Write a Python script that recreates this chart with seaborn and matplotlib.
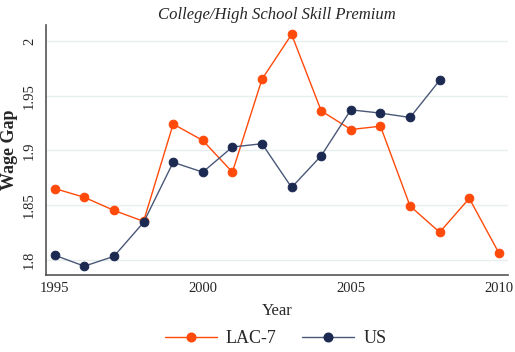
import pandas as pd
import seaborn as sns
import matplotlib.pyplot as plt
from matplotlib.lines import Line2D

# Values
years_lac = list(range(1995, 2011))
lac7 = [1.865, 1.857, 1.845, 1.835, 1.924, 1.909, 1.880, 1.965,
        2.006, 1.936, 1.919, 1.922, 1.849, 1.825, 1.856, 1.806]
years_us = list(range(1995, 2009))
us = [1.804, 1.794, 1.803, 1.834, 1.889, 1.880, 1.903, 1.906,
      1.866, 1.895, 1.937, 1.934, 1.930, 1.964]

df = pd.concat([
    pd.DataFrame({'year': years_lac, 'gap': lac7, 'series': 'LAC-7'}),
    pd.DataFrame({'year': years_us, 'gap': us, 'series': 'US'}),
])

sns.set_style('white')
plt.rcParams['font.family'] = ['Liberation Serif', 'DejaVu Serif']

orange = '#ff4a0a'
navy = '#1c2a52'
navy_line = '#4a5878'

fig = plt.figure(figsize=(5.15, 3.52), dpi=100)
ax = fig.add_axes([0.089, 0.219, 0.897, 0.71])

for name, lc, mc in [('LAC-7', orange, orange), ('US', navy_line, navy)]:
    d = df[df['series'] == name]
    sns.lineplot(data=d, x='year', y='gap', ax=ax, color=lc, linewidth=1.0,
                 marker='o', markersize=6.2, markerfacecolor=mc,
                 markeredgecolor=mc, legend=False)

ax.set_xlim(1994.7, 2010.3)
ax.set_ylim(1.786, 2.0146)
ax.set_xticks([1995, 2000, 2005, 2010])
ax.set_yticks([1.8, 1.85, 1.9, 1.95, 2.0])
ax.set_yticklabels(['1.8', '1.85', '1.9', '1.95', '2'], rotation=90, va='center')
ax.tick_params(axis='both', length=4, width=0.8, color='#555555', labelsize=10.5, pad=3)
ax.tick_params(axis='x', direction='inout')
ax.yaxis.grid(True, color='#e6eeee', linewidth=1.0)
ax.set_axisbelow(True)

sns.despine(ax=ax)
for s in ['left', 'bottom']:
    ax.spines[s].set_color('#555555')
    ax.spines[s].set_linewidth(1.2)

ax.set_xlabel('Year', fontsize=12, labelpad=6)
ax.set_ylabel('Wage Gap', fontsize=13, fontweight='bold', labelpad=4)
ax.set_title('College/High School Skill Premium', fontsize=12, style='italic', pad=4)

handles = [
    Line2D([], [], color=orange, marker='o', markersize=6.2, markerfacecolor=orange,
           markeredgecolor=orange, linewidth=1.0),
    Line2D([], [], color=navy_line, marker='o', markersize=6.2, markerfacecolor=navy,
           markeredgecolor=navy, linewidth=1.0),
]
fig.legend(handles, ['LAC-7', 'US'], loc='center', bbox_to_anchor=(0.535, 0.038),
           ncol=2, frameon=False, fontsize=13, handlelength=2.9, columnspacing=1.4,
           handletextpad=0.5)

fig.savefig('out.png', dpi=100)
